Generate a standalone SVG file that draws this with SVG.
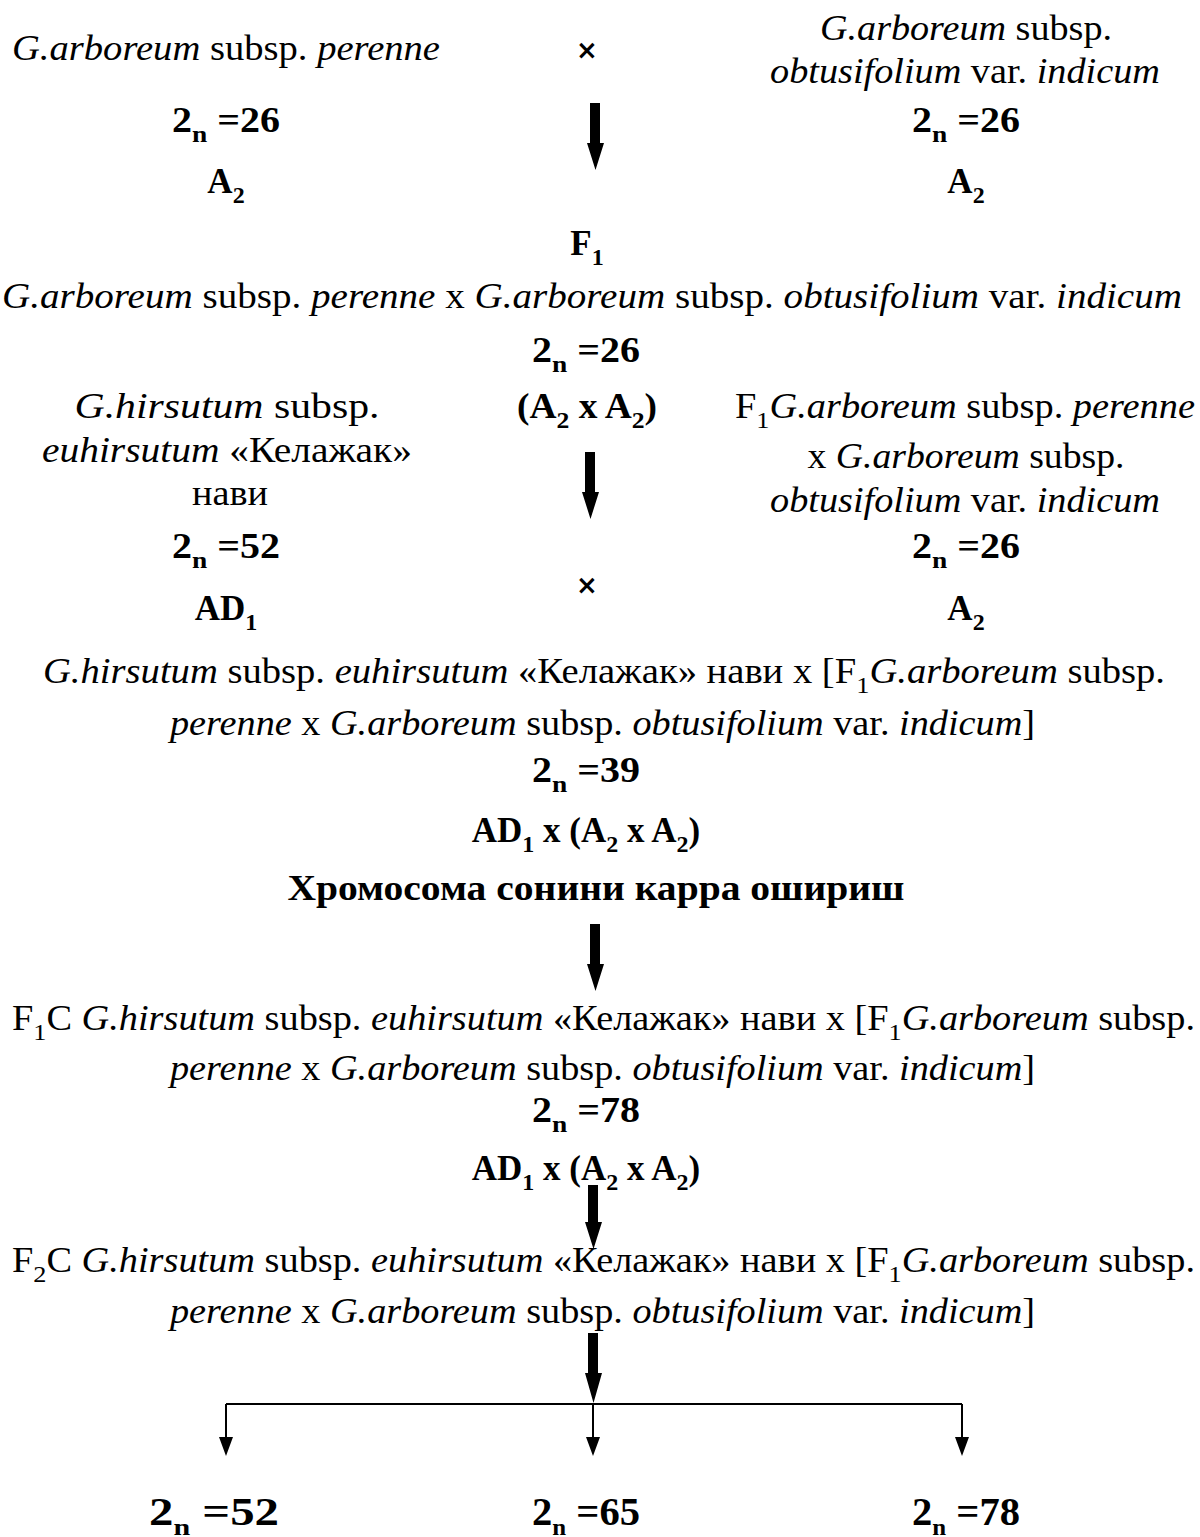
<svg xmlns="http://www.w3.org/2000/svg" width="1200" height="1537" viewBox="0 0 1200 1537">
<style>
text{font-family:"Liberation Serif","DejaVu Serif",serif;font-size:35px;fill:#000}
.i{font-style:italic}
.b{font-weight:bold}
.s{font-size:24px}
.m{text-anchor:middle}
.x{font-family:"DejaVu Sans",sans-serif;font-weight:bold;font-size:26px;text-anchor:middle}
.bt{font-family:"Liberation Serif",serif;font-weight:bold;font-size:39px;text-anchor:middle}
.thin{stroke:#000;stroke-width:2;fill:none}
</style>
<g id="p1">
<text x="12" y="60" textLength="428" lengthAdjust="spacingAndGlyphs"><tspan class="i">G.arboreum</tspan> subsp. <tspan class="i">perenne</tspan></text>
<text class="b m" x="226" y="132" textLength="108" lengthAdjust="spacingAndGlyphs">2<tspan class="s" dy="10">n</tspan><tspan dy="-10"> =26</tspan></text>
<text class="b m" x="226" y="193">A<tspan class="s" dy="10">2</tspan></text>
</g>
<text id="cross1" class="x" x="587" y="59">×</text>
<g id="p2">
<text class="m" x="966" y="40" textLength="292" lengthAdjust="spacingAndGlyphs"><tspan class="i">G.arboreum</tspan> subsp.</text>
<text class="m" x="965" y="83" textLength="390" lengthAdjust="spacingAndGlyphs"><tspan class="i">obtusifolium</tspan> var. <tspan class="i">indicum</tspan></text>
<text class="b m" x="966" y="132" textLength="108" lengthAdjust="spacingAndGlyphs">2<tspan class="s" dy="10">n</tspan><tspan dy="-10"> =26</tspan></text>
<text class="b m" x="966" y="193">A<tspan class="s" dy="10">2</tspan></text>
</g>
<g id="f1">
<text class="b m" x="587" y="255">F<tspan class="s" dy="10">1</tspan></text>
<text x="2" y="308" textLength="1180" lengthAdjust="spacingAndGlyphs"><tspan class="i">G.arboreum</tspan> subsp. <tspan class="i">perenne</tspan> x <tspan class="i">G.arboreum</tspan> subsp. <tspan class="i">obtusifolium</tspan> var. <tspan class="i">indicum</tspan></text>
<text class="b m" x="586" y="362" textLength="108" lengthAdjust="spacingAndGlyphs">2<tspan class="s" dy="10">n</tspan><tspan dy="-10"> =26</tspan></text>
<text class="b m" x="587" y="418" textLength="140" lengthAdjust="spacingAndGlyphs">(A<tspan class="s" dy="10">2</tspan><tspan dy="-10"> x A</tspan><tspan class="s" dy="10">2</tspan><tspan dy="-10">)</tspan></text>
</g>
<g id="p3">
<text class="m" x="227" y="418" textLength="305" lengthAdjust="spacingAndGlyphs"><tspan class="i">G.hirsutum</tspan> subsp.</text>
<text class="m" x="227" y="462" textLength="370" lengthAdjust="spacingAndGlyphs"><tspan class="i">euhirsutum</tspan> «Келажак»</text>
<text class="m" x="230" y="505" textLength="76" lengthAdjust="spacingAndGlyphs">нави</text>
<text class="b m" x="226" y="558" textLength="108" lengthAdjust="spacingAndGlyphs">2<tspan class="s" dy="10">n</tspan><tspan dy="-10"> =52</tspan></text>
<text class="b m" x="226" y="620">AD<tspan class="s" dy="10">1</tspan></text>
</g>
<g id="p4">
<text x="735" y="418" textLength="460" lengthAdjust="spacingAndGlyphs">F<tspan class="s" dy="10">1</tspan><tspan class="i" dy="-10">G.arboreum</tspan> subsp. <tspan class="i">perenne</tspan></text>
<text class="m" x="966" y="468" textLength="317" lengthAdjust="spacingAndGlyphs">x <tspan class="i">G.arboreum</tspan> subsp.</text>
<text class="m" x="965" y="512" textLength="390" lengthAdjust="spacingAndGlyphs"><tspan class="i">obtusifolium</tspan> var. <tspan class="i">indicum</tspan></text>
<text class="b m" x="966" y="558" textLength="108" lengthAdjust="spacingAndGlyphs">2<tspan class="s" dy="10">n</tspan><tspan dy="-10"> =26</tspan></text>
<text class="b m" x="966" y="620">A<tspan class="s" dy="10">2</tspan></text>
</g>
<text id="cross2" class="x" x="587" y="594">×</text>
<g id="h1">
<text x="43" y="683" textLength="1122" lengthAdjust="spacingAndGlyphs"><tspan class="i">G.hirsutum</tspan> subsp. <tspan class="i">euhirsutum</tspan> «Келажак» нави x [F<tspan class="s" dy="10">1</tspan><tspan class="i" dy="-10">G.arboreum</tspan> subsp.</text>
<text x="170" y="735" textLength="865" lengthAdjust="spacingAndGlyphs"><tspan class="i">perenne</tspan> x <tspan class="i">G.arboreum</tspan> subsp. <tspan class="i">obtusifolium</tspan> var. <tspan class="i">indicum</tspan>]</text>
<text class="b m" x="586" y="782" textLength="108" lengthAdjust="spacingAndGlyphs">2<tspan class="s" dy="10">n</tspan><tspan dy="-10"> =39</tspan></text>
<text class="b m" x="586" y="842">AD<tspan class="s" dy="10">1</tspan><tspan dy="-10"> x (A</tspan><tspan class="s" dy="10">2</tspan><tspan dy="-10"> x A</tspan><tspan class="s" dy="10">2</tspan><tspan dy="-10">)</tspan></text>
<text class="b m" x="596" y="900" textLength="617" lengthAdjust="spacingAndGlyphs">Хромосома сонини карра ошириш</text>
</g>
<g id="h2">
<text x="12" y="1030" textLength="1183" lengthAdjust="spacingAndGlyphs">F<tspan class="s" dy="10">1</tspan><tspan dy="-10">C </tspan><tspan class="i">G.hirsutum</tspan> subsp. <tspan class="i">euhirsutum</tspan> «Келажак» нави x [F<tspan class="s" dy="10">1</tspan><tspan class="i" dy="-10">G.arboreum</tspan> subsp.</text>
<text x="170" y="1080" textLength="865" lengthAdjust="spacingAndGlyphs"><tspan class="i">perenne</tspan> x <tspan class="i">G.arboreum</tspan> subsp. <tspan class="i">obtusifolium</tspan> var. <tspan class="i">indicum</tspan>]</text>
<text class="b m" x="586" y="1122" textLength="108" lengthAdjust="spacingAndGlyphs">2<tspan class="s" dy="10">n</tspan><tspan dy="-10"> =78</tspan></text>
<text class="b m" x="586" y="1180">AD<tspan class="s" dy="10">1</tspan><tspan dy="-10"> x (A</tspan><tspan class="s" dy="10">2</tspan><tspan dy="-10"> x A</tspan><tspan class="s" dy="10">2</tspan><tspan dy="-10">)</tspan></text>
</g>
<g id="h3">
<text x="12" y="1272" textLength="1183" lengthAdjust="spacingAndGlyphs">F<tspan class="s" dy="10">2</tspan><tspan dy="-10">C </tspan><tspan class="i">G.hirsutum</tspan> subsp. <tspan class="i">euhirsutum</tspan> «Келажак» нави x [F<tspan class="s" dy="10">1</tspan><tspan class="i" dy="-10">G.arboreum</tspan> subsp.</text>
<text x="170" y="1323" textLength="865" lengthAdjust="spacingAndGlyphs"><tspan class="i">perenne</tspan> x <tspan class="i">G.arboreum</tspan> subsp. <tspan class="i">obtusifolium</tspan> var. <tspan class="i">indicum</tspan>]</text>
</g>
<g id="r1"><text class="bt" x="214" y="1525" textLength="130" lengthAdjust="spacingAndGlyphs">2<tspan class="s" dy="10">n</tspan><tspan dy="-10"> =52</tspan></text></g>
<g id="r2"><text class="bt" x="586" y="1525" textLength="108" lengthAdjust="spacingAndGlyphs">2<tspan class="s" dy="10">n</tspan><tspan dy="-10"> =65</tspan></text></g>
<g id="r3"><text class="bt" x="966" y="1525" textLength="108" lengthAdjust="spacingAndGlyphs">2<tspan class="s" dy="10">n</tspan><tspan dy="-10"> =78</tspan></text></g>
<g id="connectors">
<path d="M590,103 h10 v40 h4 l-8.5,27 l-8.5,-27 h3 z" fill="#000"/>
<path d="M585,452 h10 v40 h4 l-8.5,27 l-8.5,-27 h3 z" fill="#000"/>
<path d="M590,924 h10 v40 h4 l-8.5,27 l-8.5,-27 h3 z" fill="#000"/>
<path d="M588,1185 h10 v37 h4 l-8.5,27 l-8.5,-27 h3 z" fill="#000"/>
<path d="M588,1333 h10 v40 h4 l-8.5,30 l-8.5,-30 h3 z" fill="#000"/>
<path class="thin" d="M226,1404 H962 M226,1404 V1438 M593,1404 V1438 M962,1404 V1438"/>
<path d="M219,1437 h14 l-7,19 z M586,1437 h14 l-7,19 z M955,1437 h14 l-7,19 z" fill="#000"/>
</g>
</svg>
